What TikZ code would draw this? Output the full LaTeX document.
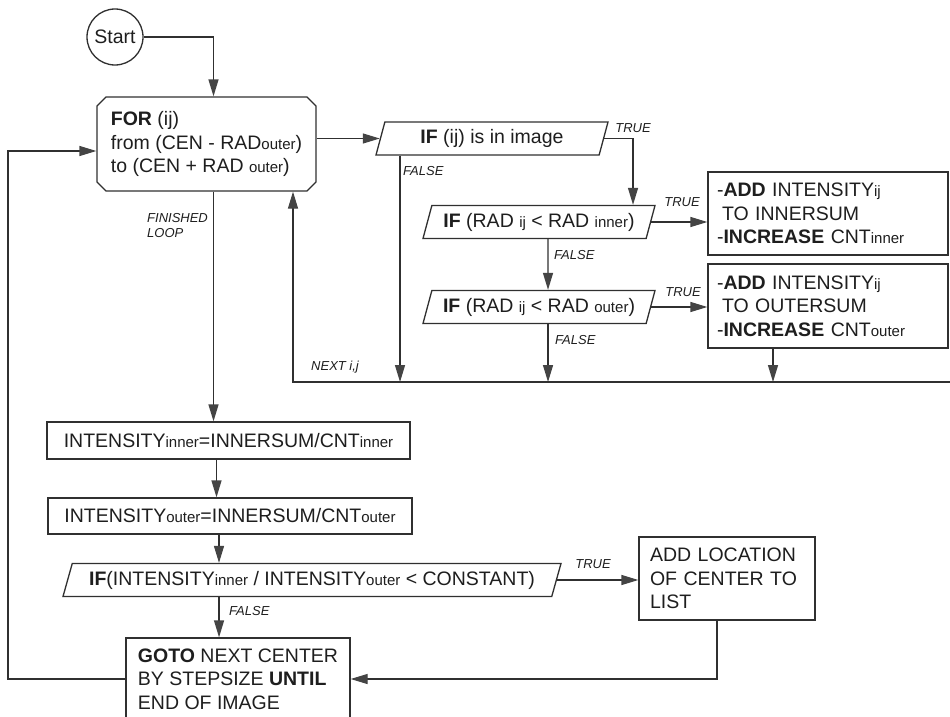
\documentclass[tikz,border=0pt]{standalone}
\usepackage{fontspec}
\setmainfont{Liberation Sans}
\usetikzlibrary{arrows.meta,positioning,calc,shapes.geometric,shapes.misc}
\definecolor{Ink}{HTML}{1E1E1E}
\definecolor{Wire}{HTML}{303030}
\definecolor{Head}{HTML}{444444}
\newcommand{\lowsub}[1]{{\fontsize{15}{15}\selectfont #1}}
\tikzset{
  basefont/.style={font=\fontsize{19.5}{23.5}\selectfont,text=Ink},
  termbox/.style={basefont,draw=Wire,line width=1.3pt,circle,minimum size=56pt,inner sep=0pt},
  loopbox/.style={basefont,draw=Wire,line width=1.3pt,chamfered rectangle,chamfered rectangle xsep=4.5pt,chamfered rectangle ysep=4.5pt,align=left},
  testbox/.style={basefont,draw=Wire,line width=1.3pt,trapezium,trapezium left angle=64,trapezium right angle=116,trapezium stretches body,minimum height=33pt,inner xsep=4pt,inner ysep=0pt},
  workbox/.style={basefont,draw=Wire,line width=1.3pt,rectangle,align=left,inner ysep=0pt},
  line/.style={-{Triangle[length=17pt,width=10pt,color=Head]},draw=Wire,line width=1.3pt},
  tag/.style={font=\fontsize{13}{15}\selectfont\itshape,text=Ink,inner sep=0pt}
}

\begin{document}
\begin{tikzpicture}[x=1pt,y=-1pt]
  \fill[white] (0,0) rectangle (950,717);
  \clip (0,0) rectangle (950,717);
  % loop over the pixels round one center
  \node[termbox] (start) at (115,37) {Start};
  \node[loopbox,minimum width=219pt,minimum height=94pt] (loop) at (206.5,144) {\textbf{FOR} (ij)\\from (CEN - RAD\lowsub{outer})\\to (CEN + RAD \lowsub{outer})};
  \node[testbox,minimum width=232pt] (ifimg) at (492,138.5) {\textbf{IF} (ij) is in image};
  \node[testbox,minimum width=232pt] (ifin) at (539,222) {\textbf{IF} (RAD \lowsub{ij} < RAD \lowsub{inner})};
  \node[testbox,minimum width=232pt] (ifout) at (539,307) {\textbf{IF} (RAD \lowsub{ij} < RAD \lowsub{outer})};
  \node[workbox,text width=222pt,inner xsep=9pt,minimum height=83pt] (addin) at (828,213.5) {-\textbf{ADD} INTENSITY\lowsub{ij}\\\hspace*{5pt}TO INNERSUM\\-\textbf{INCREASE} CNT\lowsub{inner}};
  \node[workbox,text width=222pt,inner xsep=9pt,minimum height=84pt] (addout) at (828,306) {-\textbf{ADD} INTENSITY\lowsub{ij}\\\hspace*{5pt}TO OUTERSUM\\-\textbf{INCREASE} CNT\lowsub{outer}};
  % ratio test for the center
  \node[workbox,minimum width=363pt,minimum height=37pt] (intin) at (228.5,440.5) {INTENSITY\lowsub{inner}=INNERSUM/CNT\lowsub{inner}};
  \node[workbox,minimum width=364pt,minimum height=36pt] (intout) at (230,516) {INTENSITY\lowsub{outer}=INNERSUM/CNT\lowsub{outer}};
  \node[testbox,minimum width=498pt,trapezium left angle=63,trapezium right angle=117] (ifratio) at (312,580) {\textbf{IF}(INTENSITY\lowsub{inner} / INTENSITY\lowsub{outer} < CONSTANT)};
  \node[workbox,text width=154pt,inner xsep=11pt,minimum height=83pt] (addloc) at (727,578.5) {ADD LOCATION\\OF CENTER TO\\LIST};
  \node[workbox,minimum width=224pt,minimum height=82pt] (gonext) at (238,679) {\textbf{GOTO} NEXT CENTER\\BY STEPSIZE \textbf{UNTIL}\\END OF IMAGE};
  \coordinate (nextR) at (950,382);
  \coordinate (nextL) at (293,382);
  \coordinate (loopL) at (8,151);
  % connectors
  \draw[line] (start.east) -| ([xshift=7pt]loop.north);
  \draw[line] (loop.east |- ifimg.west) -- (ifimg.west);
  \draw[line] (ifimg.east) -| ([xshift=94pt]ifin.north);
  \draw[line] ([xshift=-92pt]ifimg.south) -- ([xshift=-92pt]ifimg.south |- nextR);
  \draw[line] (ifin.east) -- (ifin.east -| addin.west);
  \draw[line] ([xshift=9pt]ifin.south) -- ([xshift=9pt]ifout.north);
  \draw[line] (ifout.east) -- (ifout.east -| addout.west);
  \draw[line] ([xshift=9pt]ifout.south) -- ([xshift=9pt]ifout.south |- nextR);
  \draw[line] ([xshift=-55pt]addout.south) -- ([xshift=-55pt]addout.south |- nextR);
  \draw[line] (nextR) -- (nextL) -- (nextL |- loop.south);
  \draw[line] ([xshift=7pt]loop.south) -- ([xshift=7pt]loop.south |- intin.north);
  \draw[line] ([xshift=-12pt]intin.south) -- ([xshift=-12pt]intin.south |- intout.north);
  \draw[line] ([xshift=-11pt]intout.south) -- ([xshift=-11pt]intout.south |- ifratio.north);
  \draw[line] (ifratio.east) -- (ifratio.east -| addloc.west);
  \draw[line] ([xshift=-93pt]ifratio.south) -- ([xshift=-93pt]ifratio.south |- gonext.north);
  \draw[line] ([xshift=-10pt]addloc.south) |- (gonext.east);
  \draw[line] (gonext.west) -| (loopL) -- (loopL -| loop.west);
  % branch labels
  \node[tag] (tTrue1) at (633,128) {TRUE};
  \node[tag,anchor=west] (tFalse1) at (403,171) {FALSE};
  \node[tag,anchor=west,align=left] (tFin) at (147,226) {FINISHED\\LOOP};
  \node[tag] (tTrue2) at (682,202) {TRUE};
  \node[tag,anchor=west] (tFalse2) at (554,255) {FALSE};
  \node[tag] (tTrue3) at (683,292) {TRUE};
  \node[tag,anchor=west] (tFalse3) at (555,340) {FALSE};
  \node[tag,anchor=west] (tNext) at (311,367) {NEXT i,j};
  \node[tag] (tTrue4) at (593,564) {TRUE};
  \node[tag,anchor=west] (tFalse4) at (229,611) {FALSE};
\end{tikzpicture}
\end{document}
